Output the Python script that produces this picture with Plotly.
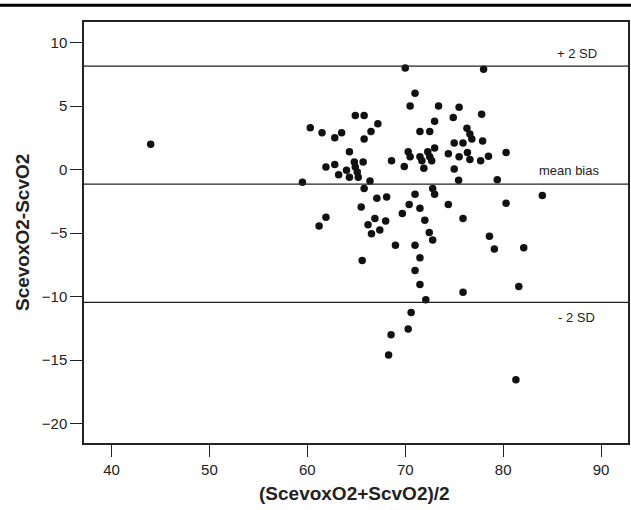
import plotly.graph_objects as go

# Bland-Altman data: mean of the two methods (x) and difference (y)
x_mean = [44.0,
          70.0, 71.0, 70.5, 73.4, 64.9, 65.8, 60.3, 61.5, 62.8, 63.5,
          67.2, 66.5, 65.8, 71.5, 72.5, 73.0, 73.0, 64.3, 62.8, 61.9,
          64.8, 64.9, 65.1, 65.2, 64.3, 64.0, 63.2, 65.7,
          66.4, 68.6, 70.3, 70.5, 69.9, 71.5, 71.7, 72.3, 72.5, 72.7, 71.9, 59.5,
          78.0, 75.5, 77.8, 74.9, 76.3, 76.6, 76.8, 77.9, 75.0, 75.9,
          80.3, 74.4, 76.35, 75.5, 76.6, 78.5, 77.7, 75.0, 75.45, 79.4,
          65.8, 72.8, 73.0, 67.1, 68.1, 71.0, 70.4, 71.5, 69.7, 65.5,
          61.9, 61.2, 66.9, 68.0, 66.2, 67.4, 66.55, 72.0, 72.45, 72.8,
          69.0, 71.0, 71.5, 65.6, 71.0, 71.5,
          84.0, 74.4, 80.3, 75.9, 78.6, 79.1, 82.1, 81.6, 75.9,
          72.1, 70.6, 70.3, 68.55, 68.3,
          81.3]
y_diff = [2.0,
          8.0, 6.0, 5.0, 5.0, 4.25, 4.25, 3.3, 2.9, 2.5, 2.9,
          3.6, 3.0, 2.4, 3.0, 3.0, 3.8, 1.7, 1.4, 0.4, 0.2,
          0.6, 0.2, -0.2, -0.6, -0.6, -0.05, -0.4, 0.6,
          -0.9, 0.7, 1.4, 1.0, 0.25, 1.0, 0.7, 1.4, 1.0, 0.7, 0.1, -1.0,
          7.9, 4.9, 4.35, 4.1, 3.25, 2.8, 2.4, 2.25, 2.1, 2.1,
          1.35, 1.25, 1.35, 1.0, 0.8, 1.05, 0.7, 0.05, -0.85, -0.8,
          -1.5, -1.5, -1.95, -2.25, -2.15, -1.95, -2.75, -3.05, -3.45, -2.95,
          -3.75, -4.45, -3.85, -4.05, -4.35, -4.75, -5.05, -4.0, -4.95, -5.55,
          -5.95, -5.95, -6.95, -7.15, -7.95, -9.05,
          -2.05, -2.75, -2.65, -3.85, -5.25, -6.25, -6.15, -9.2, -9.65,
          -10.25, -11.25, -12.55, -13.0, -14.6,
          -16.55]

mean_bias = -1.15
upper_sd = 8.15
lower_sd = -10.45
line_labels = ["+ 2 SD", "mean bias", "- 2 SD"]

x_ticks = [40, 50, 60, 70, 80, 90]
y_ticks = [-20, -15, -10, -5, 0, 5, 10]

FONT = "Liberation Sans, Arial, Helvetica, sans-serif"

fig = go.Figure()
fig.add_trace(go.Scatter(
    x=x_mean, y=y_diff, mode="markers",
    marker=dict(size=7.5, color="#111111", line=dict(width=0)),
    showlegend=False, hoverinfo="x+y"))

for yv in [upper_sd, mean_bias, lower_sd]:
    fig.add_shape(type="line", xref="paper", x0=0, x1=1, yref="y", y0=yv, y1=yv,
                  line=dict(color="#222222", width=1.3))

fig.add_annotation(x=0.947, xref="paper", y=upper_sd, yref="y", text=line_labels[0],
                   showarrow=False, xanchor="right", yanchor="bottom", yshift=3,
                   font=dict(size=13, color="#222222", family=FONT))
fig.add_annotation(x=0.95, xref="paper", y=mean_bias, yref="y", text=line_labels[1],
                   showarrow=False, xanchor="right", yanchor="bottom", yshift=4,
                   font=dict(size=13, color="#222222", family=FONT))
fig.add_annotation(x=0.943, xref="paper", y=lower_sd, yref="y", text=line_labels[2],
                   showarrow=False, xanchor="right", yanchor="top", yshift=-6,
                   font=dict(size=13, color="#222222", family=FONT))

# axis titles
fig.add_annotation(x=-0.113, xref="paper", y=0.5, yref="paper",
                   text="<b>ScevoxO2-ScvO2</b>", textangle=-90, showarrow=False,
                   xanchor="center", yanchor="middle",
                   font=dict(size=19, color="#222222", family=FONT))
fig.add_annotation(x=0.497, xref="paper", y=-0.119, yref="paper",
                   text="<b>(ScevoxO2+ScvO2)/2</b>", showarrow=False,
                   xanchor="center", yanchor="middle",
                   font=dict(size=19, color="#222222", family=FONT))

# thick rule at the top of the figure
fig.add_shape(type="line", xref="paper", yref="paper", x0=-0.16, x1=1.01,
              y0=1.040, y1=1.040, line=dict(color="#000000", width=3))

fig.update_xaxes(range=[37.19, 92.75], tickvals=x_ticks, ticks="outside", ticklen=12,
                 tickwidth=1.3, tickcolor="#222222", showline=True, mirror=True,
                 linecolor="#222222", linewidth=1.5, showgrid=False, zeroline=False,
                 tickfont=dict(size=15, color="#222222", family=FONT))
fig.update_yaxes(range=[-21.53, 11.62], tickvals=y_ticks, ticks="outside", ticklen=12,
                 tickwidth=1.3, tickcolor="#222222", showline=True, mirror=True,
                 linecolor="#222222", linewidth=1.5, showgrid=False, zeroline=False,
                 tickfont=dict(size=15, color="#222222", family=FONT))

fig.update_layout(width=631, height=510, margin=dict(l=84, r=1, t=22, b=67),
                  plot_bgcolor="white", paper_bgcolor="white",
                  font=dict(family=FONT, color="#222222"))

fig.write_html("out.html")
